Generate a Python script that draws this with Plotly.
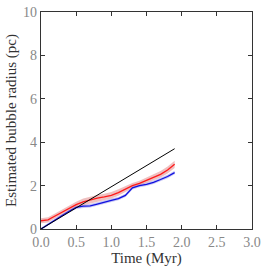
import plotly.graph_objects as go

t = [0.0, 0.1, 0.2, 0.3, 0.4, 0.5, 0.6, 0.7, 0.8, 0.9, 1.0, 1.1, 1.2, 1.3, 1.4, 1.5, 1.6, 1.7, 1.8, 1.9]
red = [0.38, 0.42, 0.6, 0.78, 0.95, 1.12, 1.25, 1.35, 1.42, 1.48, 1.55, 1.68, 1.85, 2.0, 2.1, 2.25, 2.38, 2.52, 2.72, 2.98]
red_err = [0.12, 0.12, 0.12, 0.12, 0.13, 0.14, 0.15, 0.15, 0.15, 0.15, 0.15, 0.15, 0.14, 0.12, 0.12, 0.13, 0.14, 0.15, 0.16, 0.17]
blue = [0.0, 0.22, 0.42, 0.62, 0.82, 1.0, 1.05, 1.07, 1.15, 1.25, 1.32, 1.4, 1.55, 1.9, 2.0, 2.06, 2.15, 2.28, 2.42, 2.6]
blue_err = [0.06, 0.06, 0.06, 0.06, 0.07, 0.08, 0.08, 0.08, 0.08, 0.08, 0.08, 0.08, 0.08, 0.08, 0.08, 0.08, 0.08, 0.08, 0.08, 0.08]
black_t = [0.0, 1.9]
black_r = [0.0, 3.7]

x_ticks = [0.0, 0.5, 1.0, 1.5, 2.0, 2.5, 3.0]
x_labels = ["0.0", "0.5", "1.0", "1.5", "2.0", "2.5", "3.0"]
y_ticks = [0, 2, 4, 6, 8, 10]

fig = go.Figure()

def band(x, y, e, color):
    up = [a + b for a, b in zip(y, e)]
    lo = [a - b for a, b in zip(y, e)]
    fig.add_trace(go.Scatter(x=x + x[::-1], y=up + lo[::-1], fill="toself",
                             fillcolor=color, line=dict(width=0), hoverinfo="skip",
                             showlegend=False))

band(t, blue, blue_err, "rgba(130,130,230,0.45)")
band(t, red, red_err, "rgba(225,140,140,0.55)")
fig.add_trace(go.Scatter(x=t, y=blue, mode="lines", line=dict(color="#1010e0", width=1.3), showlegend=False))
fig.add_trace(go.Scatter(x=t, y=red, mode="lines", line=dict(color="#ff1a1a", width=1.3), showlegend=False))
fig.add_trace(go.Scatter(x=black_t, y=black_r, mode="lines", line=dict(color="black", width=1), showlegend=False))

font_fam = "Liberation Serif, DejaVu Serif, serif"
fig.update_layout(
    width=266, height=270,
    margin=dict(l=41, r=14, t=12, b=41),
    plot_bgcolor="white", paper_bgcolor="white",
    font=dict(family=font_fam, size=14, color="#222"),
    xaxis=dict(range=[0, 3], tickvals=x_ticks, ticktext=x_labels, showgrid=False, zeroline=False,
               automargin=False,
               showline=True, linecolor="#333", linewidth=1.2, mirror="ticks", ticks="inside",
               ticklen=4, tickcolor="#333", tickfont=dict(color="#888", size=14),
               title=dict(text="Time (Myr)", font=dict(size=15, color="#333"), standoff=2)),
    yaxis=dict(range=[0, 10], tickvals=y_ticks, showgrid=False, zeroline=False,
               automargin=False,
               showline=True, linecolor="#333", linewidth=1.2, mirror="ticks", ticks="inside",
               ticklen=4, tickcolor="#333", tickfont=dict(color="#888", size=14),
               title=dict(text="Estimated bubble radius (pc)", font=dict(size=15, color="#333"), standoff=2)),
)

fig.write_html("out.html", config={"displayModeBar": False},
               post_script="document.body.style.margin='0';document.body.style.overflow='hidden';")
